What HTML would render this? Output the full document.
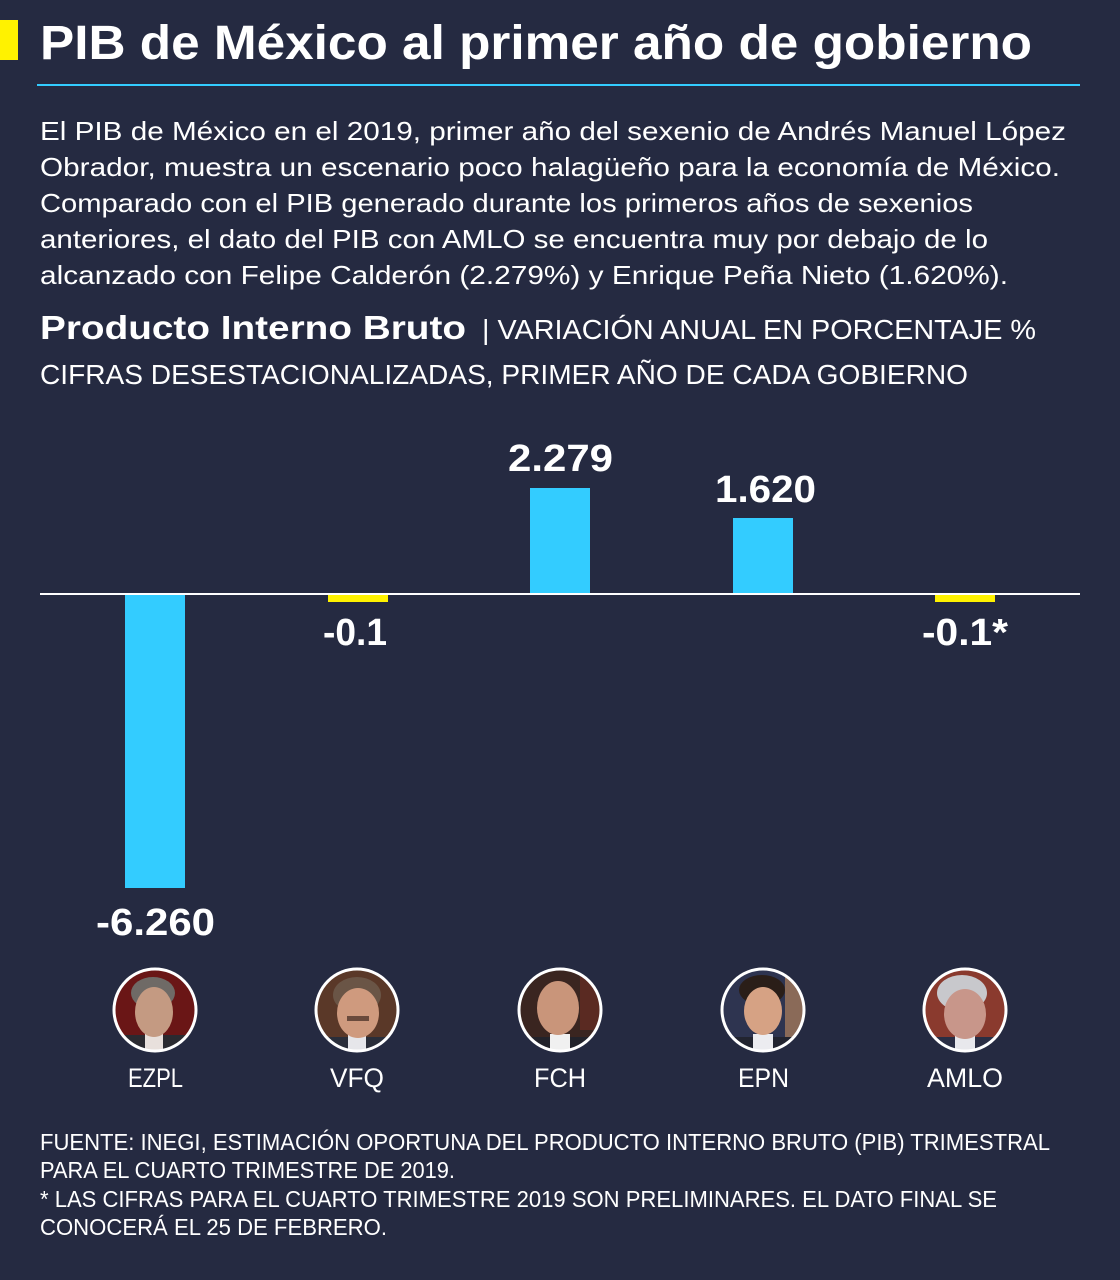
<!DOCTYPE html>
<html><head><meta charset="utf-8"><style>
html,body{margin:0;padding:0;background:#252a41;}
svg{display:block;}
text{font-family:"Liberation Sans",sans-serif;fill:#fff;}
.b{font-weight:bold;}
</style></head><body>
<svg width="1120" height="1280" viewBox="0 0 1120 1280" xmlns="http://www.w3.org/2000/svg">
<rect x="0" y="0" width="1120" height="1280" fill="#252a41"/>
<rect x="0" y="20" width="18" height="40" fill="#fff200"/>
<text class="b" x="40" y="59" font-size="48" textLength="992" lengthAdjust="spacingAndGlyphs">PIB de México al primer año de gobierno</text>
<rect x="37" y="84" width="1043" height="2" fill="#33ccff"/>

<g font-size="26">
<text x="40" y="140" textLength="1026" lengthAdjust="spacingAndGlyphs">El PIB de México en el 2019, primer año del sexenio de Andrés Manuel López</text>
<text x="40" y="176" textLength="1020" lengthAdjust="spacingAndGlyphs">Obrador, muestra un escenario poco halagüeño para la economía de México.</text>
<text x="40" y="212" textLength="933" lengthAdjust="spacingAndGlyphs">Comparado con el PIB generado durante los primeros años de sexenios</text>
<text x="40" y="248" textLength="948" lengthAdjust="spacingAndGlyphs">anteriores, el dato del PIB con AMLO se encuentra muy por debajo de lo</text>
<text x="40" y="284" textLength="968" lengthAdjust="spacingAndGlyphs">alcanzado con Felipe Calderón (2.279%) y Enrique Peña Nieto (1.620%).</text>
</g>

<text class="b" x="40" y="339" font-size="33" textLength="426" lengthAdjust="spacingAndGlyphs">Producto Interno Bruto</text>
<text x="482" y="339" font-size="28" textLength="554" lengthAdjust="spacingAndGlyphs">| VARIACIÓN ANUAL EN PORCENTAJE %</text>
<text x="40" y="384" font-size="28" textLength="928" lengthAdjust="spacingAndGlyphs">CIFRAS DESESTACIONALIZADAS, PRIMER AÑO DE CADA GOBIERNO</text>

<!-- bars -->
<rect x="125" y="595" width="60" height="293" fill="#33ccff"/>
<rect x="328" y="595" width="60" height="7" fill="#fff200"/>
<rect x="530" y="488" width="60" height="106" fill="#33ccff"/>
<rect x="733" y="518" width="60" height="76" fill="#33ccff"/>
<rect x="935" y="595" width="60" height="7" fill="#fff200"/>
<rect x="40" y="593" width="1040" height="2" fill="#ffffff"/>

<g class="b" font-size="38">
<text class="b" x="508" y="471" textLength="105" lengthAdjust="spacingAndGlyphs">2.279</text>
<text class="b" x="715" y="502" textLength="101" lengthAdjust="spacingAndGlyphs">1.620</text>
<text class="b" x="96" y="935" textLength="119" lengthAdjust="spacingAndGlyphs">-6.260</text>
<text class="b" x="323" y="645" textLength="64" lengthAdjust="spacingAndGlyphs">-0.1</text>
<text class="b" x="922" y="645" textLength="86" lengthAdjust="spacingAndGlyphs">-0.1*</text>
</g>

<defs>
<clipPath id="c1"><circle cx="155" cy="1010" r="40"/></clipPath>
<clipPath id="c2"><circle cx="357" cy="1010" r="40"/></clipPath>
<clipPath id="c3"><circle cx="560" cy="1010" r="40"/></clipPath>
<clipPath id="c4"><circle cx="763" cy="1010" r="40"/></clipPath>
<clipPath id="c5"><circle cx="965" cy="1010" r="40"/></clipPath>
</defs>

<!-- EZPL -->
<g clip-path="url(#c1)">
<rect x="110" y="965" width="90" height="90" fill="#6a1616"/>
<ellipse cx="153" cy="993" rx="22" ry="16" fill="#6f6a66"/>
<rect x="120" y="1035" width="70" height="20" fill="#2a2a30"/>
<rect x="145" y="1032" width="18" height="20" fill="#e8e0dc"/>
<ellipse cx="154" cy="1012" rx="19" ry="25" fill="#c49a82"/>
</g>
<circle cx="155" cy="1010" r="41" fill="none" stroke="#fff" stroke-width="3"/>

<!-- VFQ -->
<g clip-path="url(#c2)">
<rect x="312" y="965" width="90" height="90" fill="#5a3828"/>
<ellipse cx="357" cy="995" rx="24" ry="18" fill="#6a5546"/>
<rect x="322" y="1037" width="70" height="20" fill="#2a2e3a"/>
<rect x="348" y="1034" width="18" height="20" fill="#e6e6ea"/>
<ellipse cx="358" cy="1013" rx="21" ry="25" fill="#cf9a7e"/>
<rect x="347" y="1016" width="22" height="5" fill="#6a4a3c"/>
</g>
<circle cx="357" cy="1010" r="41" fill="none" stroke="#fff" stroke-width="3"/>

<!-- FCH -->
<g clip-path="url(#c3)">
<rect x="515" y="965" width="90" height="90" fill="#3a2520"/>
<rect x="580" y="970" width="25" height="60" fill="#5a2a22"/>
<rect x="522" y="1037" width="76" height="20" fill="#22222a"/>
<rect x="550" y="1034" width="20" height="20" fill="#f0f0f0"/>
<ellipse cx="558" cy="1008" rx="21" ry="27" fill="#c9957a"/>
</g>
<circle cx="560" cy="1010" r="41" fill="none" stroke="#fff" stroke-width="3"/>

<!-- EPN -->
<g clip-path="url(#c4)">
<rect x="718" y="965" width="90" height="90" fill="#2e3450"/>
<rect x="785" y="968" width="22" height="70" fill="#8a6a58"/>
<ellipse cx="762" cy="990" rx="23" ry="15" fill="#2a1e18"/>
<rect x="726" y="1037" width="76" height="20" fill="#222430"/>
<rect x="753" y="1034" width="20" height="20" fill="#ececf0"/>
<ellipse cx="763" cy="1011" rx="19" ry="24" fill="#d6a284"/>
</g>
<circle cx="763" cy="1010" r="41" fill="none" stroke="#fff" stroke-width="3"/>

<!-- AMLO -->
<g clip-path="url(#c5)">
<rect x="920" y="965" width="90" height="90" fill="#8a3a2e"/>
<ellipse cx="962" cy="993" rx="25" ry="18" fill="#c8c8cc"/>
<rect x="928" y="1037" width="76" height="20" fill="#2a2e44"/>
<rect x="955" y="1034" width="20" height="20" fill="#e8e8ec"/>
<ellipse cx="965" cy="1014" rx="21" ry="25" fill="#c8968a"/>
</g>
<circle cx="965" cy="1010" r="41" fill="none" stroke="#fff" stroke-width="3"/>

<g font-size="27">
<text x="128" y="1087" textLength="55" lengthAdjust="spacingAndGlyphs">EZPL</text>
<text x="330" y="1087" textLength="54" lengthAdjust="spacingAndGlyphs">VFQ</text>
<text x="534" y="1087" textLength="52" lengthAdjust="spacingAndGlyphs">FCH</text>
<text x="738" y="1087" textLength="51" lengthAdjust="spacingAndGlyphs">EPN</text>
<text x="927" y="1087" textLength="76" lengthAdjust="spacingAndGlyphs">AMLO</text>
</g>

<g font-size="23">
<text x="40" y="1150" textLength="1010" lengthAdjust="spacingAndGlyphs">FUENTE: INEGI, ESTIMACIÓN OPORTUNA DEL PRODUCTO INTERNO BRUTO (PIB) TRIMESTRAL</text>
<text x="40" y="1178" textLength="415" lengthAdjust="spacingAndGlyphs">PARA EL CUARTO TRIMESTRE DE 2019.</text>
<text x="40" y="1207" textLength="957" lengthAdjust="spacingAndGlyphs">* LAS CIFRAS PARA EL CUARTO TRIMESTRE 2019 SON PRELIMINARES. EL DATO FINAL SE</text>
<text x="40" y="1235" textLength="347" lengthAdjust="spacingAndGlyphs">CONOCERÁ EL 25 DE FEBRERO.</text>
</g>
</svg>
</body></html>
